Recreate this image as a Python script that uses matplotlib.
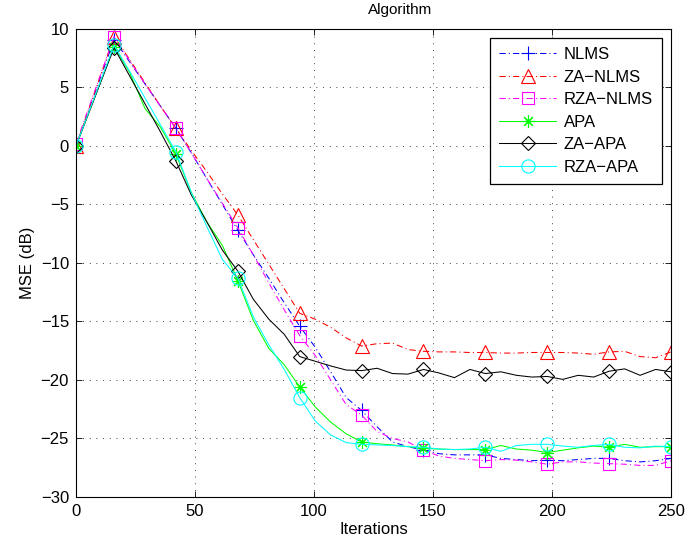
import matplotlib
matplotlib.use("Agg")
import matplotlib.pyplot as plt

plt.rcParams["font.family"] = ["Liberation Sans", "DejaVu Sans"]
plt.rcParams["font.size"] = 12

# ======================================================
# Data
# ======================================================

iterations = [0, 16, 22.5, 29, 35.5, 42, 48.5, 55, 61.5, 68, 74.5, 81, 87.5, 94,
              100.5, 107, 113.5, 120, 126.5, 133, 139.5, 146, 152.5, 159, 165.5,
              172, 178.5, 185, 191.5, 198, 204.5, 211, 217.5, 224, 230.5, 237,
              243.5, 250]

nlms = [0.0, 9.1, 7.2, 5.3, 3.4, 1.5, -0.6, -2.8, -5.0, -7.2, -9.3, -11.3, -13.4,
        -15.4, -17.2, -19.3, -21.5, -22.6, -24.0, -25.3, -25.7, -26.0, -26.3,
        -26.4, -26.4, -26.4, -26.7, -26.8, -26.9, -26.85, -26.9, -26.8, -26.7,
        -26.7, -26.9, -27.0, -26.9, -26.7]

za_nlms = [0.0, 9.35, 7.4, 5.4, 3.4, 1.5, -0.4, -2.2, -4.1, -5.9, -8.0, -10.1,
           -12.2, -14.3, -14.8, -15.5, -16.4, -17.1, -16.9, -16.85, -17.4, -17.55,
           -17.6, -17.6, -17.65, -17.65, -17.7, -17.7, -17.65, -17.65, -17.65,
           -17.7, -17.8, -17.6, -17.55, -18.0, -18.1, -17.6]

rza_nlms = [0.2, 9.35, 7.3, 5.3, 3.4, 1.5, -0.6, -2.8, -4.9, -7.0, -9.3, -11.7,
            -14.0, -16.2, -17.9, -20.0, -22.1, -23.0, -24.4, -25.0, -25.3, -26.0,
            -26.5, -26.7, -26.8, -26.9, -26.8, -26.85, -27.0, -27.2, -27.0, -27.0,
            -27.1, -27.15, -27.2, -27.3, -27.3, -26.9]

apa = [0.0, 8.5, 6.3, 3.2, 1.6, -0.7, -4.0, -6.5, -8.5, -11.5, -14.9, -17.3,
       -18.7, -20.6, -22.3, -23.6, -24.6, -25.3, -25.45, -25.55, -25.7, -25.85,
       -25.9, -25.95, -25.95, -25.95, -25.6, -25.9, -26.0, -26.2, -26.0, -25.8,
       -25.65, -25.75, -25.5, -25.75, -25.7, -25.7]

za_apa = [0.0, 8.4, 6.0, 3.6, 1.2, -1.3, -4.2, -6.5, -8.9, -10.7, -13.1, -14.8,
          -16.1, -18.0, -18.4, -18.8, -19.15, -19.2, -19.0, -19.45, -19.5, -19.1,
          -19.4, -19.8, -19.1, -19.45, -19.3, -19.6, -19.75, -19.7, -19.95, -19.6,
          -19.75, -19.25, -19.05, -19.6, -19.1, -19.3]

rza_apa = [0.0, 8.6, 6.4, 4.1, 1.8, -0.5, -4.0, -6.9, -9.7, -11.3, -14.6, -17.0,
           -19.1, -21.5, -23.5, -24.7, -25.35, -25.5, -25.55, -25.6, -25.7, -25.75,
           -25.9, -25.95, -25.9, -25.75, -26.1, -25.6, -25.5, -25.5, -25.65, -25.75,
           -25.6, -25.5, -25.75, -25.8, -25.65, -25.7]

labels = ["NLMS", "ZA\u2212NLMS", "RZA\u2212NLMS", "APA", "ZA\u2212APA", "RZA\u2212APA"]

# ======================================================
# Plot
# ======================================================

dashdot = (0, (6, 3, 1, 3))
asterisk = (8, 2, 0)

styles = [
    dict(color=(0, 0, 1), linestyle=dashdot, marker="+", markersize=10),
    dict(color=(1, 0, 0), linestyle=dashdot, marker="^", markersize=10),
    dict(color=(1, 0, 1), linestyle=dashdot, marker="s", markersize=8),
    dict(color=(0, 1, 0), linestyle="-", marker=asterisk, markersize=9),
    dict(color=(0, 0, 0), linestyle="-", marker="D", markersize=7.5),
    dict(color=(0, 1, 1), linestyle="-", marker="o", markersize=9.5),
]

series = [nlms, za_nlms, rza_nlms, apa, za_apa, rza_apa]

marker_idx = [0] + list(range(1, len(iterations), 4))

fig = plt.figure(figsize=(6.89, 5.5), dpi=100)
ax = fig.add_axes([0.1103, 0.0964, 0.8636, 0.8509])

for y, lab, st in zip(series, labels, styles):
    ax.plot(
        iterations,
        y,
        label=lab,
        linewidth=0.75,
        markevery=marker_idx,
        markerfacecolor="none",
        markeredgewidth=0.8,
        **st,
    )

ax.set_xlim(0, 250)
ax.set_ylim(-30, 10)
ax.set_xticks([0, 50, 100, 150, 200, 250])
ax.set_yticks([-30, -25, -20, -15, -10, -5, 0, 5, 10])
ax.set_yticklabels(["\u221230", "\u221225", "\u221220", "\u221215", "\u221210",
                    "\u22125", "0", "5", "10"])

ax.grid(True, color="k", linestyle=(0, (1, 7)), linewidth=0.6)
ax.tick_params(direction="in", top=True, right=True, length=4, width=0.6, pad=5)
for sp in ax.spines.values():
    sp.set_linewidth(0.8)

ax.set_xlabel("Iterations", labelpad=2)
ax.set_ylabel("MSE (dB)", labelpad=4)
ax.set_title("Algorithm", fontsize=11, x=0.545, pad=11)

leg = ax.legend(
    loc="upper right",
    fancybox=False,
    edgecolor="k",
    framealpha=1,
    handlelength=3.4,
    handletextpad=0.45,
    labelspacing=0.45,
    borderpad=0.55,
    borderaxespad=0.55,
    fontsize=12,
)
leg.get_frame().set_linewidth(0.9)

fig.savefig("out.png", dpi=100)
